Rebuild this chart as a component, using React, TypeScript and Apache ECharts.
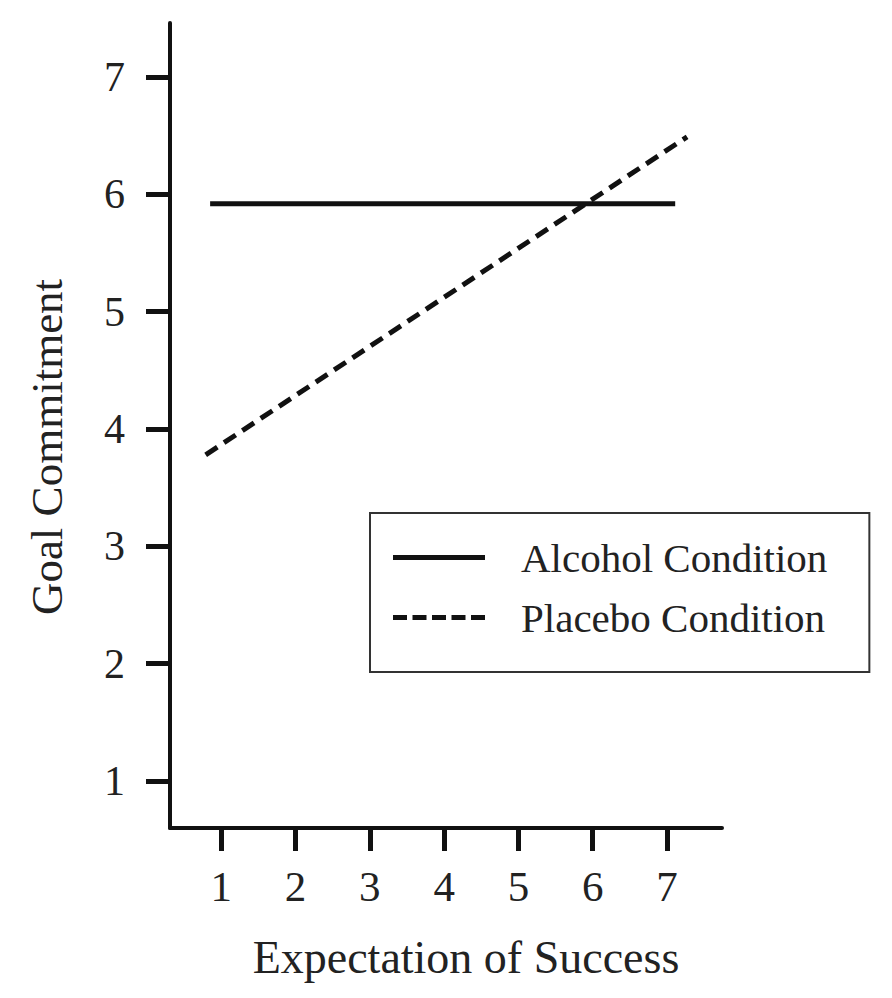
import React, { useEffect, useRef } from "react";
import * as echarts from "echarts";

const xTicks = [1, 2, 3, 4, 5, 6, 7];
const yTicks = [1, 2, 3, 4, 5, 6, 7];
const seriesNames = ["Alcohol Condition", "Placebo Condition"];
const alcoholX = [0.85, 7.11];
const alcoholY = [5.92, 5.92];
const placeboX = [0.79, 7.27];
const placeboY = [3.78, 6.49];
const xTitle = "Expectation of Success";
const yTitle = "Goal Commitment";

const FONT = "'Liberation Serif', 'Times New Roman', serif";
const INK = "#111";
const SOLID_ICON = "path://M0,0h92v5h-92z";
const DASH_ICON = "path://M0,0h14v5h-14zM19.5,0h14v5h-14zM39,0h14v5h-14zM58.5,0h14v5h-14zM78,0h14v5h-14z";

export default function App() {
  const ref = useRef<HTMLDivElement>(null);
  useEffect(() => {
    if (!ref.current) return;
    const chart = echarts.init(ref.current, null, { renderer: "svg" });
    const pairs = (xs: number[], ys: number[]) => xs.map((x, i) => [x, ys[i]]);
    chart.setOption({
      animation: false,
      backgroundColor: "#fff",
      grid: { left: 170, top: 23, right: 170, bottom: 170, containLabel: false },
      xAxis: {
        type: "value",
        min: 0.31,
        max: 7.74,
        splitLine: { show: false },
        axisLine: { show: true, onZero: false, lineStyle: { color: INK, width: 4 } },
        axisTick: { show: true, length: 23, customValues: xTicks, lineStyle: { color: INK, width: 5 } },
        axisLabel: { customValues: xTicks, margin: 37, fontSize: 43, fontFamily: FONT, color: "#222" },
      },
      yAxis: {
        type: "value",
        min: 0.6,
        max: 7.46,
        splitLine: { show: false },
        axisLine: { show: true, onZero: false, lineStyle: { color: INK, width: 4 } },
        axisTick: { show: true, length: 24, customValues: yTicks, lineStyle: { color: INK, width: 5 } },
        axisLabel: { customValues: yTicks, margin: 45, fontSize: 42, fontFamily: FONT, color: "#222" },
      },
      legend: {
        orient: "vertical",
        left: 370,
        top: 513,
        data: [
          { name: seriesNames[0], icon: SOLID_ICON },
          { name: seriesNames[1], icon: DASH_ICON },
        ],
        itemWidth: 92,
        itemHeight: 5,
        itemGap: 19,
        padding: [24, 42, 34, 23],
        borderColor: "#333",
        borderWidth: 2,
        backgroundColor: "#fff",
        selectedMode: false,
        itemStyle: { color: INK },
        textStyle: { fontSize: 41, fontFamily: FONT, color: "#222", padding: [0, 0, 0, 31] },
      },
      graphic: [
        {
          type: "text",
          x: 47,
          y: 447,
          rotation: Math.PI / 2,
          style: { text: yTitle, fontSize: 45, fontFamily: FONT, fill: "#222", align: "center", verticalAlign: "middle" },
        },
        {
          type: "text",
          x: 466,
          y: 957,
          style: { text: xTitle, fontSize: 46, fontFamily: FONT, fill: "#222", align: "center", verticalAlign: "middle" },
        },
      ],
      series: [
        {
          name: seriesNames[0],
          type: "line",
          data: pairs(alcoholX, alcoholY),
          symbol: "none",
          lineStyle: { color: INK, width: 5, type: "solid" },
          itemStyle: { color: INK },
        },
        {
          name: seriesNames[1],
          type: "line",
          data: pairs(placeboX, placeboY),
          symbol: "none",
          lineStyle: { color: INK, width: 5, type: [14, 8], cap: "butt" },
          itemStyle: { color: INK },
        },
      ],
    });
    return () => chart.dispose();
  }, []);
  return <div ref={ref} style={{ position: "absolute", left: 0, top: 0, width: 892, height: 998 }} />;
}
